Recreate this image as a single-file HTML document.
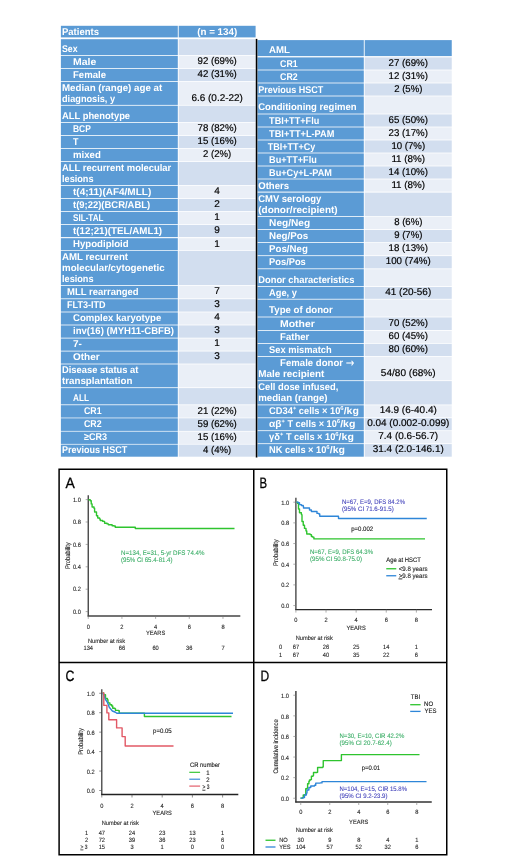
<!DOCTYPE html>
<html lang="en"><head><meta charset="utf-8"><title>Patient characteristics and outcomes</title>
<style>
html,body{margin:0;padding:0;background:#fff;}
body{width:520px;height:867px;overflow:hidden;position:relative;font-family:"Liberation Sans",sans-serif;}
svg{position:absolute;left:0;top:0;display:block;}
text{white-space:pre;}
</style></head><body>
<svg width="520" height="867" viewBox="0 0 520 867" text-rendering="geometricPrecision">
<g font-family="'Liberation Sans', sans-serif">
<rect x="60.90" y="25.80" width="116.90" height="11.60" fill="#5b9bd5"/>
<rect x="178.70" y="25.80" width="76.90" height="11.60" fill="#5b9bd5"/>
<text x="62.00" y="34.60" font-size="9.8" fill="#fff" font-weight="bold" textLength="36.95" lengthAdjust="spacingAndGlyphs">Patients</text>
<text x="217.18" y="34.60" font-size="9.8" fill="#fff" font-weight="bold" text-anchor="middle" textLength="39.94" lengthAdjust="spacingAndGlyphs">(n = 134)</text>
<rect x="60.90" y="39.20" width="116.90" height="15.90" fill="#5b9bd5"/>
<rect x="178.70" y="39.20" width="76.90" height="15.90" fill="#d2deef"/>
<text x="62.00" y="51.70" font-size="9.8" fill="#fff" font-weight="bold" textLength="15.62" lengthAdjust="spacingAndGlyphs">Sex</text>
<rect x="60.90" y="55.90" width="116.90" height="12.20" fill="#5b9bd5"/>
<rect x="178.70" y="55.90" width="76.90" height="12.20" fill="#eaeff7"/>
<text x="73.00" y="64.70" font-size="9.8" fill="#fff" font-weight="bold" textLength="23.28" lengthAdjust="spacingAndGlyphs">Male</text>
<text x="217.18" y="64.40" font-size="9.8" fill="#000" text-anchor="middle" textLength="39.32" lengthAdjust="spacingAndGlyphs" stroke="#000" stroke-width="0.18">92 (69%)</text>
<rect x="60.90" y="68.90" width="116.90" height="12.20" fill="#5b9bd5"/>
<rect x="178.70" y="68.90" width="76.90" height="12.20" fill="#d2deef"/>
<text x="73.00" y="77.70" font-size="9.8" fill="#fff" font-weight="bold" textLength="33.04" lengthAdjust="spacingAndGlyphs">Female</text>
<text x="217.18" y="77.40" font-size="9.8" fill="#000" text-anchor="middle" textLength="39.32" lengthAdjust="spacingAndGlyphs" stroke="#000" stroke-width="0.18">42 (31%)</text>
<rect x="60.90" y="81.90" width="116.90" height="23.00" fill="#5b9bd5"/>
<rect x="178.70" y="81.90" width="76.90" height="23.00" fill="#eaeff7"/>
<text x="62.00" y="90.60" font-size="9.8" fill="#fff" font-weight="bold" textLength="100.25" lengthAdjust="spacingAndGlyphs">Median (range) age at</text>
<text x="62.00" y="101.50" font-size="9.8" fill="#fff" font-weight="bold" textLength="53.08" lengthAdjust="spacingAndGlyphs">diagnosis, y</text>
<text x="217.18" y="101.20" font-size="9.8" fill="#000" text-anchor="middle" textLength="51.53" lengthAdjust="spacingAndGlyphs" stroke="#000" stroke-width="0.18">6.6 (0.2-22)</text>
<rect x="60.90" y="105.70" width="116.90" height="16.40" fill="#5b9bd5"/>
<rect x="178.70" y="105.70" width="76.90" height="16.40" fill="#d2deef"/>
<text x="62.00" y="118.70" font-size="9.8" fill="#fff" font-weight="bold" textLength="68.08" lengthAdjust="spacingAndGlyphs">ALL phenotype</text>
<rect x="60.90" y="122.90" width="116.90" height="12.20" fill="#5b9bd5"/>
<rect x="178.70" y="122.90" width="76.90" height="12.20" fill="#eaeff7"/>
<text x="73.00" y="131.70" font-size="9.8" fill="#fff" font-weight="bold" textLength="17.84" lengthAdjust="spacingAndGlyphs">BCP</text>
<text x="217.18" y="131.40" font-size="9.8" fill="#000" text-anchor="middle" textLength="39.32" lengthAdjust="spacingAndGlyphs" stroke="#000" stroke-width="0.18">78 (82%)</text>
<rect x="60.90" y="135.90" width="116.90" height="12.20" fill="#5b9bd5"/>
<rect x="178.70" y="135.90" width="76.90" height="12.20" fill="#d2deef"/>
<text x="73.00" y="144.70" font-size="9.8" fill="#fff" font-weight="bold" textLength="5.45" lengthAdjust="spacingAndGlyphs">T</text>
<text x="217.18" y="144.40" font-size="9.8" fill="#000" text-anchor="middle" textLength="39.32" lengthAdjust="spacingAndGlyphs" stroke="#000" stroke-width="0.18">15 (16%)</text>
<rect x="60.90" y="148.90" width="116.90" height="12.20" fill="#5b9bd5"/>
<rect x="178.70" y="148.90" width="76.90" height="12.20" fill="#eaeff7"/>
<text x="73.00" y="157.70" font-size="9.8" fill="#fff" font-weight="bold" textLength="27.88" lengthAdjust="spacingAndGlyphs">mixed</text>
<text x="217.18" y="157.40" font-size="9.8" fill="#000" text-anchor="middle" textLength="28.17" lengthAdjust="spacingAndGlyphs" stroke="#000" stroke-width="0.18">2 (2%)</text>
<rect x="60.90" y="161.90" width="116.90" height="23.20" fill="#5b9bd5"/>
<rect x="178.70" y="161.90" width="76.90" height="23.20" fill="#d2deef"/>
<text x="62.00" y="170.80" font-size="9.8" fill="#fff" font-weight="bold" textLength="109.27" lengthAdjust="spacingAndGlyphs">ALL recurrent molecular</text>
<text x="62.00" y="181.70" font-size="9.8" fill="#fff" font-weight="bold" textLength="31.53" lengthAdjust="spacingAndGlyphs">lesions</text>
<rect x="60.90" y="185.90" width="116.90" height="12.20" fill="#5b9bd5"/>
<rect x="178.70" y="185.90" width="76.90" height="12.20" fill="#eaeff7"/>
<text x="73.00" y="194.70" font-size="9.8" fill="#fff" font-weight="bold" textLength="78.22" lengthAdjust="spacingAndGlyphs">t(4;11)(AF4/MLL)</text>
<text x="217.18" y="194.40" font-size="9.8" fill="#000" text-anchor="middle" textLength="5.58" lengthAdjust="spacingAndGlyphs" stroke="#000" stroke-width="0.18">4</text>
<rect x="60.90" y="198.90" width="116.90" height="12.20" fill="#5b9bd5"/>
<rect x="178.70" y="198.90" width="76.90" height="12.20" fill="#d2deef"/>
<text x="73.00" y="207.70" font-size="9.8" fill="#fff" font-weight="bold" textLength="77.19" lengthAdjust="spacingAndGlyphs">t(9;22)(BCR/ABL)</text>
<text x="217.18" y="207.40" font-size="9.8" fill="#000" text-anchor="middle" textLength="5.58" lengthAdjust="spacingAndGlyphs" stroke="#000" stroke-width="0.18">2</text>
<rect x="60.90" y="211.90" width="116.90" height="12.20" fill="#5b9bd5"/>
<rect x="178.70" y="211.90" width="76.90" height="12.20" fill="#eaeff7"/>
<text x="73.00" y="220.70" font-size="9.8" fill="#fff" font-weight="bold" textLength="30.58" lengthAdjust="spacingAndGlyphs">SIL-TAL</text>
<text x="217.18" y="220.40" font-size="9.8" fill="#000" text-anchor="middle" textLength="5.58" lengthAdjust="spacingAndGlyphs" stroke="#000" stroke-width="0.18">1</text>
<rect x="60.90" y="224.90" width="116.90" height="12.20" fill="#5b9bd5"/>
<rect x="178.70" y="224.90" width="76.90" height="12.20" fill="#d2deef"/>
<text x="73.00" y="233.70" font-size="9.8" fill="#fff" font-weight="bold" textLength="89.08" lengthAdjust="spacingAndGlyphs">t(12;21)(TEL/AML1)</text>
<text x="217.18" y="233.40" font-size="9.8" fill="#000" text-anchor="middle" textLength="5.58" lengthAdjust="spacingAndGlyphs" stroke="#000" stroke-width="0.18">9</text>
<rect x="60.90" y="238.20" width="116.90" height="12.00" fill="#5b9bd5"/>
<rect x="178.70" y="238.20" width="76.90" height="12.00" fill="#eaeff7"/>
<text x="73.00" y="246.80" font-size="9.8" fill="#fff" font-weight="bold" textLength="55.69" lengthAdjust="spacingAndGlyphs">Hypodiploid</text>
<text x="217.18" y="246.50" font-size="9.8" fill="#000" text-anchor="middle" textLength="5.58" lengthAdjust="spacingAndGlyphs" stroke="#000" stroke-width="0.18">1</text>
<rect x="60.90" y="250.90" width="116.90" height="34.20" fill="#5b9bd5"/>
<rect x="178.70" y="250.90" width="76.90" height="34.20" fill="#d2deef"/>
<text x="62.00" y="259.90" font-size="9.8" fill="#fff" font-weight="bold" textLength="66.10" lengthAdjust="spacingAndGlyphs">AML recurrent</text>
<text x="62.00" y="270.80" font-size="9.8" fill="#fff" font-weight="bold" textLength="102.64" lengthAdjust="spacingAndGlyphs">molecular/cytogenetic</text>
<text x="62.00" y="281.70" font-size="9.8" fill="#fff" font-weight="bold" textLength="31.53" lengthAdjust="spacingAndGlyphs">lesions</text>
<rect x="60.90" y="285.90" width="116.90" height="12.50" fill="#5b9bd5"/>
<rect x="178.70" y="285.90" width="76.90" height="12.50" fill="#eaeff7"/>
<text x="67.00" y="294.70" font-size="9.8" fill="#fff" font-weight="bold" textLength="71.61" lengthAdjust="spacingAndGlyphs">MLL rearranged</text>
<text x="217.18" y="294.40" font-size="9.8" fill="#000" text-anchor="middle" textLength="5.58" lengthAdjust="spacingAndGlyphs" stroke="#000" stroke-width="0.18">7</text>
<rect x="60.90" y="299.20" width="116.90" height="12.40" fill="#5b9bd5"/>
<rect x="178.70" y="299.20" width="76.90" height="12.40" fill="#d2deef"/>
<text x="67.00" y="307.70" font-size="9.8" fill="#fff" font-weight="bold" textLength="38.60" lengthAdjust="spacingAndGlyphs">FLT3-ITD</text>
<text x="217.18" y="307.40" font-size="9.8" fill="#000" text-anchor="middle" textLength="5.58" lengthAdjust="spacingAndGlyphs" stroke="#000" stroke-width="0.18">3</text>
<rect x="60.90" y="312.40" width="116.90" height="12.20" fill="#5b9bd5"/>
<rect x="178.70" y="312.40" width="76.90" height="12.20" fill="#eaeff7"/>
<text x="73.00" y="320.70" font-size="9.8" fill="#fff" font-weight="bold" textLength="88.20" lengthAdjust="spacingAndGlyphs">Complex karyotype</text>
<text x="217.18" y="320.40" font-size="9.8" fill="#000" text-anchor="middle" textLength="5.58" lengthAdjust="spacingAndGlyphs" stroke="#000" stroke-width="0.18">4</text>
<rect x="60.90" y="325.40" width="116.90" height="12.30" fill="#5b9bd5"/>
<rect x="178.70" y="325.40" width="76.90" height="12.30" fill="#d2deef"/>
<text x="73.00" y="333.70" font-size="9.8" fill="#fff" font-weight="bold" textLength="100.99" lengthAdjust="spacingAndGlyphs">inv(16) (MYH11-CBFB)</text>
<text x="217.18" y="333.40" font-size="9.8" fill="#000" text-anchor="middle" textLength="5.58" lengthAdjust="spacingAndGlyphs" stroke="#000" stroke-width="0.18">3</text>
<rect x="60.90" y="338.50" width="116.90" height="12.20" fill="#5b9bd5"/>
<rect x="178.70" y="338.50" width="76.90" height="12.20" fill="#eaeff7"/>
<text x="73.00" y="346.70" font-size="9.8" fill="#fff" font-weight="bold" textLength="8.94" lengthAdjust="spacingAndGlyphs">7-</text>
<text x="217.18" y="346.40" font-size="9.8" fill="#000" text-anchor="middle" textLength="5.58" lengthAdjust="spacingAndGlyphs" stroke="#000" stroke-width="0.18">1</text>
<rect x="60.90" y="351.50" width="116.90" height="12.10" fill="#5b9bd5"/>
<rect x="178.70" y="351.50" width="76.90" height="12.10" fill="#d2deef"/>
<text x="73.00" y="359.70" font-size="9.8" fill="#fff" font-weight="bold" textLength="26.60" lengthAdjust="spacingAndGlyphs">Other</text>
<text x="217.18" y="359.40" font-size="9.8" fill="#000" text-anchor="middle" textLength="5.58" lengthAdjust="spacingAndGlyphs" stroke="#000" stroke-width="0.18">3</text>
<rect x="60.90" y="364.40" width="116.90" height="22.90" fill="#5b9bd5"/>
<rect x="178.70" y="364.40" width="76.90" height="22.90" fill="#eaeff7"/>
<text x="62.00" y="372.80" font-size="9.8" fill="#fff" font-weight="bold" textLength="76.44" lengthAdjust="spacingAndGlyphs">Disease status at</text>
<text x="62.00" y="383.70" font-size="9.8" fill="#fff" font-weight="bold" textLength="70.33" lengthAdjust="spacingAndGlyphs">transplantation</text>
<rect x="60.90" y="388.10" width="116.90" height="16.30" fill="#5b9bd5"/>
<rect x="178.70" y="388.10" width="76.90" height="16.30" fill="#d2deef"/>
<text x="73.00" y="400.70" font-size="9.8" fill="#fff" font-weight="bold" textLength="15.97" lengthAdjust="spacingAndGlyphs">ALL</text>
<rect x="60.90" y="405.20" width="116.90" height="12.40" fill="#5b9bd5"/>
<rect x="178.70" y="405.20" width="76.90" height="12.40" fill="#eaeff7"/>
<text x="84.00" y="413.90" font-size="9.8" fill="#fff" font-weight="bold" textLength="17.59" lengthAdjust="spacingAndGlyphs">CR1</text>
<text x="217.18" y="413.60" font-size="9.8" fill="#000" text-anchor="middle" textLength="39.32" lengthAdjust="spacingAndGlyphs" stroke="#000" stroke-width="0.18">21 (22%)</text>
<rect x="60.90" y="418.30" width="116.90" height="12.60" fill="#5b9bd5"/>
<rect x="178.70" y="418.30" width="76.90" height="12.60" fill="#d2deef"/>
<text x="84.00" y="427.00" font-size="9.8" fill="#fff" font-weight="bold" textLength="17.59" lengthAdjust="spacingAndGlyphs">CR2</text>
<text x="217.18" y="426.70" font-size="9.8" fill="#000" text-anchor="middle" textLength="39.32" lengthAdjust="spacingAndGlyphs" stroke="#000" stroke-width="0.18">59 (62%)</text>
<rect x="60.90" y="431.60" width="116.90" height="12.30" fill="#5b9bd5"/>
<rect x="178.70" y="431.60" width="76.90" height="12.30" fill="#eaeff7"/>
<text x="84.00" y="440.00" font-size="9.8" fill="#fff" font-weight="bold" textLength="23.07" lengthAdjust="spacingAndGlyphs">≥CR3</text>
<text x="217.18" y="439.70" font-size="9.8" fill="#000" text-anchor="middle" textLength="39.32" lengthAdjust="spacingAndGlyphs" stroke="#000" stroke-width="0.18">15 (16%)</text>
<rect x="60.90" y="444.60" width="116.90" height="12.10" fill="#5b9bd5"/>
<rect x="178.70" y="444.60" width="76.90" height="12.10" fill="#d2deef"/>
<text x="62.00" y="453.20" font-size="9.8" fill="#fff" font-weight="bold" textLength="65.19" lengthAdjust="spacingAndGlyphs">Previous HSCT</text>
<text x="217.18" y="452.90" font-size="9.8" fill="#000" text-anchor="middle" textLength="28.17" lengthAdjust="spacingAndGlyphs" stroke="#000" stroke-width="0.18">4 (4%)</text>
<rect x="257.50" y="40.10" width="106.30" height="16.00" fill="#5b9bd5"/>
<rect x="364.70" y="40.10" width="87.05" height="16.00" fill="#5b9bd5"/>
<text x="269.10" y="53.20" font-size="9.8" fill="#fff" font-weight="bold" textLength="20.93" lengthAdjust="spacingAndGlyphs">AML</text>
<rect x="257.50" y="57.40" width="106.30" height="12.20" fill="#5b9bd5"/>
<rect x="364.70" y="57.40" width="87.05" height="12.20" fill="#d2deef"/>
<text x="280.10" y="66.70" font-size="9.8" fill="#fff" font-weight="bold" textLength="17.59" lengthAdjust="spacingAndGlyphs">CR1</text>
<text x="408.25" y="66.30" font-size="9.8" fill="#000" text-anchor="middle" textLength="39.32" lengthAdjust="spacingAndGlyphs" stroke="#000" stroke-width="0.18">27 (69%)</text>
<rect x="257.50" y="70.40" width="106.30" height="12.20" fill="#5b9bd5"/>
<rect x="364.70" y="70.40" width="87.05" height="12.20" fill="#eaeff7"/>
<text x="280.10" y="79.70" font-size="9.8" fill="#fff" font-weight="bold" textLength="17.59" lengthAdjust="spacingAndGlyphs">CR2</text>
<text x="408.25" y="79.30" font-size="9.8" fill="#000" text-anchor="middle" textLength="39.32" lengthAdjust="spacingAndGlyphs" stroke="#000" stroke-width="0.18">12 (31%)</text>
<rect x="257.50" y="83.40" width="106.30" height="12.20" fill="#5b9bd5"/>
<rect x="364.70" y="83.40" width="87.05" height="12.20" fill="#d2deef"/>
<text x="258.20" y="92.70" font-size="9.8" fill="#fff" font-weight="bold" textLength="65.19" lengthAdjust="spacingAndGlyphs">Previous HSCT</text>
<text x="408.25" y="92.30" font-size="9.8" fill="#000" text-anchor="middle" textLength="28.17" lengthAdjust="spacingAndGlyphs" stroke="#000" stroke-width="0.18">2 (5%)</text>
<rect x="257.50" y="96.40" width="106.30" height="17.20" fill="#5b9bd5"/>
<rect x="364.70" y="96.40" width="87.05" height="17.20" fill="#eaeff7"/>
<text x="258.20" y="110.00" font-size="9.8" fill="#fff" font-weight="bold" textLength="98.44" lengthAdjust="spacingAndGlyphs">Conditioning regimen</text>
<rect x="257.50" y="114.40" width="106.30" height="12.20" fill="#5b9bd5"/>
<rect x="364.70" y="114.40" width="87.05" height="12.20" fill="#d2deef"/>
<text x="269.10" y="123.70" font-size="9.8" fill="#fff" font-weight="bold" textLength="50.18" lengthAdjust="spacingAndGlyphs">TBI+TT+Flu</text>
<text x="408.25" y="123.30" font-size="9.8" fill="#000" text-anchor="middle" textLength="39.32" lengthAdjust="spacingAndGlyphs" stroke="#000" stroke-width="0.18">65 (50%)</text>
<rect x="257.50" y="127.40" width="106.30" height="12.20" fill="#5b9bd5"/>
<rect x="364.70" y="127.40" width="87.05" height="12.20" fill="#eaeff7"/>
<text x="269.10" y="136.70" font-size="9.8" fill="#fff" font-weight="bold" textLength="65.25" lengthAdjust="spacingAndGlyphs">TBI+TT+L-PAM</text>
<text x="408.25" y="136.30" font-size="9.8" fill="#000" text-anchor="middle" textLength="39.32" lengthAdjust="spacingAndGlyphs" stroke="#000" stroke-width="0.18">23 (17%)</text>
<rect x="257.50" y="140.40" width="106.30" height="12.20" fill="#5b9bd5"/>
<rect x="364.70" y="140.40" width="87.05" height="12.20" fill="#d2deef"/>
<text x="267.80" y="149.70" font-size="9.8" fill="#fff" font-weight="bold" textLength="47.56" lengthAdjust="spacingAndGlyphs">TBI+TT+Cy</text>
<text x="408.25" y="149.30" font-size="9.8" fill="#000" text-anchor="middle" textLength="33.75" lengthAdjust="spacingAndGlyphs" stroke="#000" stroke-width="0.18">10 (7%)</text>
<rect x="257.50" y="153.40" width="106.30" height="12.20" fill="#5b9bd5"/>
<rect x="364.70" y="153.40" width="87.05" height="12.20" fill="#eaeff7"/>
<text x="269.10" y="162.70" font-size="9.8" fill="#fff" font-weight="bold" textLength="47.71" lengthAdjust="spacingAndGlyphs">Bu+TT+Flu</text>
<text x="408.25" y="162.30" font-size="9.8" fill="#000" text-anchor="middle" textLength="33.75" lengthAdjust="spacingAndGlyphs" stroke="#000" stroke-width="0.18">11 (8%)</text>
<rect x="257.50" y="166.40" width="106.30" height="12.20" fill="#5b9bd5"/>
<rect x="364.70" y="166.40" width="87.05" height="12.20" fill="#d2deef"/>
<text x="269.10" y="175.70" font-size="9.8" fill="#fff" font-weight="bold" textLength="62.77" lengthAdjust="spacingAndGlyphs">Bu+Cy+L-PAM</text>
<text x="408.25" y="175.30" font-size="9.8" fill="#000" text-anchor="middle" textLength="39.32" lengthAdjust="spacingAndGlyphs" stroke="#000" stroke-width="0.18">14 (10%)</text>
<rect x="257.50" y="179.40" width="106.30" height="12.20" fill="#5b9bd5"/>
<rect x="364.70" y="179.40" width="87.05" height="12.20" fill="#eaeff7"/>
<text x="258.20" y="188.70" font-size="9.8" fill="#fff" font-weight="bold" textLength="30.86" lengthAdjust="spacingAndGlyphs">Others</text>
<text x="408.25" y="188.30" font-size="9.8" fill="#000" text-anchor="middle" textLength="33.75" lengthAdjust="spacingAndGlyphs" stroke="#000" stroke-width="0.18">11 (8%)</text>
<rect x="257.50" y="192.60" width="106.30" height="23.60" fill="#5b9bd5"/>
<rect x="364.70" y="192.60" width="87.05" height="23.60" fill="#d2deef"/>
<text x="258.20" y="201.80" font-size="9.8" fill="#fff" font-weight="bold" textLength="63.09" lengthAdjust="spacingAndGlyphs">CMV serology</text>
<text x="258.20" y="212.70" font-size="9.8" fill="#fff" font-weight="bold" textLength="79.51" lengthAdjust="spacingAndGlyphs">(donor/recipient)</text>
<rect x="257.50" y="217.00" width="106.30" height="12.20" fill="#5b9bd5"/>
<rect x="364.70" y="217.00" width="87.05" height="12.20" fill="#eaeff7"/>
<text x="269.10" y="225.70" font-size="9.8" fill="#fff" font-weight="bold" textLength="41.05" lengthAdjust="spacingAndGlyphs">Neg/Neg</text>
<text x="408.25" y="225.30" font-size="9.8" fill="#000" text-anchor="middle" textLength="28.17" lengthAdjust="spacingAndGlyphs" stroke="#000" stroke-width="0.18">8 (6%)</text>
<rect x="257.50" y="230.00" width="106.30" height="12.20" fill="#5b9bd5"/>
<rect x="364.70" y="230.00" width="87.05" height="12.20" fill="#d2deef"/>
<text x="269.10" y="238.70" font-size="9.8" fill="#fff" font-weight="bold" textLength="39.03" lengthAdjust="spacingAndGlyphs">Neg/Pos</text>
<text x="408.25" y="238.30" font-size="9.8" fill="#000" text-anchor="middle" textLength="28.17" lengthAdjust="spacingAndGlyphs" stroke="#000" stroke-width="0.18">9 (7%)</text>
<rect x="257.50" y="243.00" width="106.30" height="12.30" fill="#5b9bd5"/>
<rect x="364.70" y="243.00" width="87.05" height="12.30" fill="#eaeff7"/>
<text x="269.10" y="251.70" font-size="9.8" fill="#fff" font-weight="bold" textLength="38.70" lengthAdjust="spacingAndGlyphs">Pos/Neg</text>
<text x="408.25" y="251.30" font-size="9.8" fill="#000" text-anchor="middle" textLength="39.32" lengthAdjust="spacingAndGlyphs" stroke="#000" stroke-width="0.18">18 (13%)</text>
<rect x="257.50" y="256.10" width="106.30" height="12.30" fill="#5b9bd5"/>
<rect x="364.70" y="256.10" width="87.05" height="12.30" fill="#d2deef"/>
<text x="269.10" y="264.70" font-size="9.8" fill="#fff" font-weight="bold" textLength="36.69" lengthAdjust="spacingAndGlyphs">Pos/Pos</text>
<text x="408.25" y="264.30" font-size="9.8" fill="#000" text-anchor="middle" textLength="44.90" lengthAdjust="spacingAndGlyphs" stroke="#000" stroke-width="0.18">100 (74%)</text>
<rect x="257.50" y="269.20" width="106.30" height="17.00" fill="#5b9bd5"/>
<rect x="364.70" y="269.20" width="87.05" height="17.00" fill="#eaeff7"/>
<text x="258.20" y="282.70" font-size="9.8" fill="#fff" font-weight="bold" textLength="96.22" lengthAdjust="spacingAndGlyphs">Donor characteristics</text>
<rect x="257.50" y="287.00" width="106.30" height="11.80" fill="#5b9bd5"/>
<rect x="364.70" y="287.00" width="87.05" height="11.80" fill="#d2deef"/>
<text x="269.10" y="295.70" font-size="9.8" fill="#fff" font-weight="bold" textLength="27.83" lengthAdjust="spacingAndGlyphs">Age, y</text>
<text x="408.25" y="295.30" font-size="9.8" fill="#000" text-anchor="middle" textLength="45.98" lengthAdjust="spacingAndGlyphs" stroke="#000" stroke-width="0.18">41 (20-56)</text>
<rect x="257.50" y="299.60" width="106.30" height="17.00" fill="#5b9bd5"/>
<rect x="364.70" y="299.60" width="87.05" height="17.00" fill="#eaeff7"/>
<text x="269.10" y="313.20" font-size="9.8" fill="#fff" font-weight="bold" textLength="63.67" lengthAdjust="spacingAndGlyphs">Type of donor</text>
<rect x="257.50" y="317.40" width="106.30" height="12.60" fill="#5b9bd5"/>
<rect x="364.70" y="317.40" width="87.05" height="12.60" fill="#d2deef"/>
<text x="280.10" y="326.70" font-size="9.8" fill="#fff" font-weight="bold" textLength="34.69" lengthAdjust="spacingAndGlyphs">Mother</text>
<text x="408.25" y="326.30" font-size="9.8" fill="#000" text-anchor="middle" textLength="39.32" lengthAdjust="spacingAndGlyphs" stroke="#000" stroke-width="0.18">70 (52%)</text>
<rect x="257.50" y="330.80" width="106.30" height="12.20" fill="#5b9bd5"/>
<rect x="364.70" y="330.80" width="87.05" height="12.20" fill="#eaeff7"/>
<text x="280.10" y="339.70" font-size="9.8" fill="#fff" font-weight="bold" textLength="29.24" lengthAdjust="spacingAndGlyphs">Father</text>
<text x="408.25" y="339.30" font-size="9.8" fill="#000" text-anchor="middle" textLength="39.32" lengthAdjust="spacingAndGlyphs" stroke="#000" stroke-width="0.18">60 (45%)</text>
<rect x="257.50" y="343.80" width="106.30" height="12.30" fill="#5b9bd5"/>
<rect x="364.70" y="343.80" width="87.05" height="12.30" fill="#d2deef"/>
<text x="269.10" y="352.70" font-size="9.8" fill="#fff" font-weight="bold" textLength="62.60" lengthAdjust="spacingAndGlyphs">Sex mismatch</text>
<text x="408.25" y="352.30" font-size="9.8" fill="#000" text-anchor="middle" textLength="39.32" lengthAdjust="spacingAndGlyphs" stroke="#000" stroke-width="0.18">80 (60%)</text>
<rect x="257.50" y="356.90" width="106.30" height="23.40" fill="#5b9bd5"/>
<rect x="364.70" y="356.90" width="87.05" height="23.40" fill="#eaeff7"/>
<text x="280.10" y="365.80" font-size="9.8" fill="#fff" font-weight="bold" textLength="65.56" lengthAdjust="spacingAndGlyphs">Female donor </text>
<text x="345.66" y="366.80" font-size="12.5" fill="#fff" font-family="'DejaVu Sans', 'Liberation Sans', sans-serif" textLength="8.6" lengthAdjust="spacingAndGlyphs">→</text>
<text x="258.20" y="376.70" font-size="9.8" fill="#fff" font-weight="bold" textLength="66.16" lengthAdjust="spacingAndGlyphs">Male recipient</text>
<text x="408.25" y="376.30" font-size="9.8" fill="#000" text-anchor="middle" textLength="54.72" lengthAdjust="spacingAndGlyphs" stroke="#000" stroke-width="0.18">54/80 (68%)</text>
<rect x="257.50" y="381.10" width="106.30" height="23.40" fill="#5b9bd5"/>
<rect x="364.70" y="381.10" width="87.05" height="23.40" fill="#d2deef"/>
<text x="258.20" y="389.80" font-size="9.8" fill="#fff" font-weight="bold" textLength="80.07" lengthAdjust="spacingAndGlyphs">Cell dose infused,</text>
<text x="258.20" y="400.70" font-size="9.8" fill="#fff" font-weight="bold" textLength="69.40" lengthAdjust="spacingAndGlyphs">median (range)</text>
<rect x="257.50" y="405.30" width="106.30" height="12.10" fill="#5b9bd5"/>
<rect x="364.70" y="405.30" width="87.05" height="12.10" fill="#eaeff7"/>
<text x="269.10" y="413.70" font-size="9.8" fill="#fff" font-weight="bold" textLength="23.91" lengthAdjust="spacingAndGlyphs">CD34</text>
<text x="293.01" y="410.10" font-size="5.6" fill="#fff" font-weight="bold" textLength="3.29" lengthAdjust="spacingAndGlyphs">+</text>
<text x="296.29" y="413.70" font-size="9.8" fill="#fff" font-weight="bold" textLength="44.02" lengthAdjust="spacingAndGlyphs"> cells × 10</text>
<text x="340.32" y="410.10" font-size="5.6" fill="#fff" font-weight="bold" textLength="3.35" lengthAdjust="spacingAndGlyphs">6</text>
<text x="343.66" y="413.70" font-size="9.8" fill="#fff" font-weight="bold" textLength="15.22" lengthAdjust="spacingAndGlyphs">/kg</text>
<text x="408.25" y="413.30" font-size="9.8" fill="#000" text-anchor="middle" textLength="57.11" lengthAdjust="spacingAndGlyphs" stroke="#000" stroke-width="0.18">14.9 (6-40.4)</text>
<rect x="257.50" y="418.20" width="106.30" height="12.10" fill="#5b9bd5"/>
<rect x="364.70" y="418.20" width="87.05" height="12.10" fill="#d2deef"/>
<text x="269.10" y="426.70" font-size="9.8" fill="#fff" font-weight="bold" textLength="12.50" lengthAdjust="spacingAndGlyphs">αβ</text>
<text x="281.60" y="423.10" font-size="5.6" fill="#fff" font-weight="bold" textLength="3.29" lengthAdjust="spacingAndGlyphs">+</text>
<text x="284.89" y="426.70" font-size="9.8" fill="#fff" font-weight="bold" textLength="51.96" lengthAdjust="spacingAndGlyphs"> T cells × 10</text>
<text x="336.84" y="423.10" font-size="5.6" fill="#fff" font-weight="bold" textLength="3.35" lengthAdjust="spacingAndGlyphs">6</text>
<text x="340.19" y="426.70" font-size="9.8" fill="#fff" font-weight="bold" textLength="15.22" lengthAdjust="spacingAndGlyphs">/kg</text>
<text x="408.25" y="426.30" font-size="9.8" fill="#000" text-anchor="middle" textLength="82.19" lengthAdjust="spacingAndGlyphs" stroke="#000" stroke-width="0.18">0.04 (0.002-0.099)</text>
<rect x="257.50" y="431.10" width="106.30" height="12.20" fill="#5b9bd5"/>
<rect x="364.70" y="431.10" width="87.05" height="12.20" fill="#eaeff7"/>
<text x="269.10" y="439.70" font-size="9.8" fill="#fff" font-weight="bold" textLength="10.95" lengthAdjust="spacingAndGlyphs">γδ</text>
<text x="280.05" y="436.10" font-size="5.6" fill="#fff" font-weight="bold" textLength="3.29" lengthAdjust="spacingAndGlyphs">+</text>
<text x="283.34" y="439.70" font-size="9.8" fill="#fff" font-weight="bold" textLength="51.96" lengthAdjust="spacingAndGlyphs"> T cells × 10</text>
<text x="335.30" y="436.10" font-size="5.6" fill="#fff" font-weight="bold" textLength="3.35" lengthAdjust="spacingAndGlyphs">6</text>
<text x="338.64" y="439.70" font-size="9.8" fill="#fff" font-weight="bold" textLength="15.22" lengthAdjust="spacingAndGlyphs">/kg</text>
<text x="408.25" y="439.30" font-size="9.8" fill="#000" text-anchor="middle" textLength="59.88" lengthAdjust="spacingAndGlyphs" stroke="#000" stroke-width="0.18">7.4 (0.6-56.7)</text>
<rect x="257.50" y="444.10" width="106.30" height="12.60" fill="#5b9bd5"/>
<rect x="364.70" y="444.10" width="87.05" height="12.60" fill="#d2deef"/>
<text x="269.10" y="452.70" font-size="9.8" fill="#fff" font-weight="bold" textLength="57.28" lengthAdjust="spacingAndGlyphs">NK cells × 10</text>
<text x="326.38" y="449.10" font-size="5.6" fill="#fff" font-weight="bold" textLength="3.35" lengthAdjust="spacingAndGlyphs">6</text>
<text x="329.73" y="452.70" font-size="9.8" fill="#fff" font-weight="bold" textLength="15.22" lengthAdjust="spacingAndGlyphs">/kg</text>
<text x="408.25" y="452.30" font-size="9.8" fill="#000" text-anchor="middle" textLength="71.04" lengthAdjust="spacingAndGlyphs" stroke="#000" stroke-width="0.18">31.4 (2.0-146.1)</text>
<rect x="255.75" y="38.90" width="1.60" height="418.60" fill="#000"/>
</g>
<defs><filter id="soft" x="0" y="0" width="520" height="867" filterUnits="userSpaceOnUse"><feGaussianBlur stdDeviation="0.35"/></filter></defs>
<g font-family="'Liberation Sans', sans-serif" filter="url(#soft)">
<g fill="none" stroke="#000" stroke-width="1.5">
<rect x="59.1" y="469.25" width="387.65" height="385.5"/>
<line x1="253.75" y1="469.25" x2="253.75" y2="854.75"/>
<line x1="59.1" y1="662.5" x2="446.75" y2="662.5"/>
</g>
<text x="65.50" y="487.60" font-size="15" fill="#000" textLength="9.30" lengthAdjust="spacingAndGlyphs" stroke="#000" stroke-width="0.3">A</text>
<text x="259.50" y="488.00" font-size="15" fill="#000" textLength="7.60" lengthAdjust="spacingAndGlyphs" stroke="#000" stroke-width="0.3">B</text>
<text x="65.50" y="680.70" font-size="15" fill="#000" textLength="8.90" lengthAdjust="spacingAndGlyphs" stroke="#000" stroke-width="0.3">C</text>
<text x="260.60" y="680.80" font-size="15" fill="#000" textLength="8.70" lengthAdjust="spacingAndGlyphs" stroke="#000" stroke-width="0.3">D</text>
<g stroke="#3a3a3a" stroke-width="1.3" fill="none">
<line x1="88.25" y1="495.3" x2="88.25" y2="616.4"/>
<line x1="87.65" y1="615.9" x2="240.3" y2="615.9" stroke="#444" stroke-width="1.5"/>
</g>
<g stroke="#777" stroke-width="0.6" fill="none">
<line x1="85.65" y1="499.60" x2="88.25" y2="499.60"/>
<line x1="85.65" y1="522.00" x2="88.25" y2="522.00"/>
<line x1="85.65" y1="544.40" x2="88.25" y2="544.40"/>
<line x1="85.65" y1="566.80" x2="88.25" y2="566.80"/>
<line x1="85.65" y1="589.20" x2="88.25" y2="589.20"/>
<line x1="85.65" y1="611.60" x2="88.25" y2="611.60"/>
<line x1="88.25" y1="615.90" x2="88.25" y2="618.90"/>
<line x1="121.93" y1="615.90" x2="121.93" y2="618.90"/>
<line x1="155.61" y1="615.90" x2="155.61" y2="618.90"/>
<line x1="189.29" y1="615.90" x2="189.29" y2="618.90"/>
<line x1="222.97" y1="615.90" x2="222.97" y2="618.90"/>
</g>
<text x="80.80" y="501.80" font-size="6.21" fill="#222" text-anchor="end" textLength="7.92" lengthAdjust="spacingAndGlyphs" stroke="#222" stroke-width="0.1">1.0</text>
<text x="80.80" y="524.20" font-size="6.21" fill="#222" text-anchor="end" textLength="7.92" lengthAdjust="spacingAndGlyphs" stroke="#222" stroke-width="0.1">0.8</text>
<text x="80.80" y="546.60" font-size="6.21" fill="#222" text-anchor="end" textLength="7.92" lengthAdjust="spacingAndGlyphs" stroke="#222" stroke-width="0.1">0.6</text>
<text x="80.80" y="569.00" font-size="6.21" fill="#222" text-anchor="end" textLength="7.92" lengthAdjust="spacingAndGlyphs" stroke="#222" stroke-width="0.1">0.4</text>
<text x="80.80" y="591.40" font-size="6.21" fill="#222" text-anchor="end" textLength="7.92" lengthAdjust="spacingAndGlyphs" stroke="#222" stroke-width="0.1">0.2</text>
<text x="80.80" y="613.80" font-size="6.21" fill="#222" text-anchor="end" textLength="7.92" lengthAdjust="spacingAndGlyphs" stroke="#222" stroke-width="0.1">0.0</text>
<text x="88.25" y="629.20" font-size="6.21" fill="#222" text-anchor="middle" textLength="3.17" lengthAdjust="spacingAndGlyphs" stroke="#222" stroke-width="0.1">0</text>
<text x="121.93" y="629.20" font-size="6.21" fill="#222" text-anchor="middle" textLength="3.17" lengthAdjust="spacingAndGlyphs" stroke="#222" stroke-width="0.1">2</text>
<text x="155.61" y="629.20" font-size="6.21" fill="#222" text-anchor="middle" textLength="3.17" lengthAdjust="spacingAndGlyphs" stroke="#222" stroke-width="0.1">4</text>
<text x="189.29" y="629.20" font-size="6.21" fill="#222" text-anchor="middle" textLength="3.17" lengthAdjust="spacingAndGlyphs" stroke="#222" stroke-width="0.1">6</text>
<text x="222.97" y="629.20" font-size="6.21" fill="#222" text-anchor="middle" textLength="3.17" lengthAdjust="spacingAndGlyphs" stroke="#222" stroke-width="0.1">8</text>
<text x="155.61" y="635.00" font-size="6.21" fill="#222" text-anchor="middle" textLength="19.32" lengthAdjust="spacingAndGlyphs" stroke="#222" stroke-width="0.1">YEARS</text>
<text transform="translate(69.60 555.60) rotate(-90)" font-size="6.7" fill="#222" stroke="#222" stroke-width="0.1" text-anchor="middle" textLength="26.61" lengthAdjust="spacingAndGlyphs">Probability</text>
<path d="M88.50 499.75H90.25V500.75H91.25V503.90H92.10V507.00H94.00V508.25H94.60V512.00H96.50V515.75H97.75V518.00H99.60V518.90H100.25V520.50H102.75V521.40H104.60V523.25H107.10V523.90H108.40V524.75H110.50V524.75H112.10V525.75H114.00V526.00H115.25V527.20H135.30V528.45H234.50" fill="none" stroke="#2fc42f" stroke-width="1.4" stroke-linejoin="round"/>
<text x="121.00" y="555.10" font-size="6.65" fill="#3aad66" textLength="83.50" lengthAdjust="spacingAndGlyphs" stroke="#3aad66" stroke-width="0.1">N=134, E=31, 5-yr DFS 74.4%</text>
<text x="121.00" y="561.90" font-size="6.65" fill="#3aad66" textLength="51.54" lengthAdjust="spacingAndGlyphs" stroke="#3aad66" stroke-width="0.1">(95% CI 65.4-81.4)</text>
<text x="88.00" y="642.80" font-size="6.21" fill="#222" textLength="37.06" lengthAdjust="spacingAndGlyphs" stroke="#222" stroke-width="0.1">Number at risk</text>
<text x="88.25" y="649.60" font-size="6.21" fill="#222" text-anchor="middle" textLength="9.51" lengthAdjust="spacingAndGlyphs" stroke="#222" stroke-width="0.1">134</text>
<text x="121.93" y="649.60" font-size="6.21" fill="#222" text-anchor="middle" textLength="6.34" lengthAdjust="spacingAndGlyphs" stroke="#222" stroke-width="0.1">66</text>
<text x="155.61" y="649.60" font-size="6.21" fill="#222" text-anchor="middle" textLength="6.34" lengthAdjust="spacingAndGlyphs" stroke="#222" stroke-width="0.1">60</text>
<text x="189.29" y="649.60" font-size="6.21" fill="#222" text-anchor="middle" textLength="6.34" lengthAdjust="spacingAndGlyphs" stroke="#222" stroke-width="0.1">36</text>
<text x="222.97" y="649.60" font-size="6.21" fill="#222" text-anchor="middle" textLength="3.17" lengthAdjust="spacingAndGlyphs" stroke="#222" stroke-width="0.1">7</text>
<g stroke="#3a3a3a" stroke-width="1.3" fill="none">
<line x1="295.9" y1="497.8" x2="295.9" y2="610.1"/>
<line x1="295.29999999999995" y1="609.6" x2="432" y2="609.6" stroke="#2a2a2a" stroke-width="1.25"/>
</g>
<g stroke="#777" stroke-width="0.6" fill="none">
<line x1="293.30" y1="502.20" x2="295.90" y2="502.20"/>
<line x1="293.30" y1="522.87" x2="295.90" y2="522.87"/>
<line x1="293.30" y1="543.54" x2="295.90" y2="543.54"/>
<line x1="293.30" y1="564.21" x2="295.90" y2="564.21"/>
<line x1="293.30" y1="584.88" x2="295.90" y2="584.88"/>
<line x1="293.30" y1="605.55" x2="295.90" y2="605.55"/>
<line x1="295.90" y1="609.60" x2="295.90" y2="612.60"/>
<line x1="326.02" y1="609.60" x2="326.02" y2="612.60"/>
<line x1="356.14" y1="609.60" x2="356.14" y2="612.60"/>
<line x1="386.26" y1="609.60" x2="386.26" y2="612.60"/>
<line x1="416.38" y1="609.60" x2="416.38" y2="612.60"/>
</g>
<text x="289.10" y="504.75" font-size="6.21" fill="#222" text-anchor="end" textLength="7.92" lengthAdjust="spacingAndGlyphs" stroke="#222" stroke-width="0.1">1.0</text>
<text x="289.10" y="525.42" font-size="6.21" fill="#222" text-anchor="end" textLength="7.92" lengthAdjust="spacingAndGlyphs" stroke="#222" stroke-width="0.1">0.8</text>
<text x="289.10" y="546.09" font-size="6.21" fill="#222" text-anchor="end" textLength="7.92" lengthAdjust="spacingAndGlyphs" stroke="#222" stroke-width="0.1">0.6</text>
<text x="289.10" y="566.76" font-size="6.21" fill="#222" text-anchor="end" textLength="7.92" lengthAdjust="spacingAndGlyphs" stroke="#222" stroke-width="0.1">0.4</text>
<text x="289.10" y="587.43" font-size="6.21" fill="#222" text-anchor="end" textLength="7.92" lengthAdjust="spacingAndGlyphs" stroke="#222" stroke-width="0.1">0.2</text>
<text x="289.10" y="608.10" font-size="6.21" fill="#222" text-anchor="end" textLength="7.92" lengthAdjust="spacingAndGlyphs" stroke="#222" stroke-width="0.1">0.0</text>
<text x="295.90" y="622.20" font-size="6.21" fill="#222" text-anchor="middle" textLength="3.17" lengthAdjust="spacingAndGlyphs" stroke="#222" stroke-width="0.1">0</text>
<text x="326.02" y="622.20" font-size="6.21" fill="#222" text-anchor="middle" textLength="3.17" lengthAdjust="spacingAndGlyphs" stroke="#222" stroke-width="0.1">2</text>
<text x="356.14" y="622.20" font-size="6.21" fill="#222" text-anchor="middle" textLength="3.17" lengthAdjust="spacingAndGlyphs" stroke="#222" stroke-width="0.1">4</text>
<text x="386.26" y="622.20" font-size="6.21" fill="#222" text-anchor="middle" textLength="3.17" lengthAdjust="spacingAndGlyphs" stroke="#222" stroke-width="0.1">6</text>
<text x="416.38" y="622.20" font-size="6.21" fill="#222" text-anchor="middle" textLength="3.17" lengthAdjust="spacingAndGlyphs" stroke="#222" stroke-width="0.1">8</text>
<text x="356.14" y="630.20" font-size="6.21" fill="#222" text-anchor="middle" textLength="19.32" lengthAdjust="spacingAndGlyphs" stroke="#222" stroke-width="0.1">YEARS</text>
<text transform="translate(277.80 552.60) rotate(-90)" font-size="6.7" fill="#222" stroke="#222" stroke-width="0.1" text-anchor="middle" textLength="26.61" lengthAdjust="spacingAndGlyphs">Probability</text>
<path d="M296.40 502.10H297.60V503.40H298.50V509.00H299.50V512.75H301.40V514.60H302.00V521.50H303.25V525.25H304.50V528.40H306.00V530.90H306.75V534.00H310.10V534.60H311.40V536.50H312.60V537.10H313.90V538.90H425.00" fill="none" stroke="#2fc42f" stroke-width="1.4" stroke-linejoin="round"/>
<path d="M296.40 502.10H298.25V502.75H299.50V504.60H301.40V505.50H303.25V506.50H303.50V508.00H308.25V508.00H309.50V510.00H311.40V511.50H315.75V511.50H317.00V513.40H318.90V514.00H319.75V516.25H338.50V518.45H426.75" fill="none" stroke="#2f86d8" stroke-width="1.4" stroke-linejoin="round"/>
<text x="342.00" y="504.10" font-size="6.54" fill="#4444bb" textLength="63.00" lengthAdjust="spacingAndGlyphs" stroke="#4444bb" stroke-width="0.1">N=67, E=9, DFS 84.2%</text>
<text x="342.00" y="511.10" font-size="6.54" fill="#4444bb" textLength="51.75" lengthAdjust="spacingAndGlyphs" stroke="#4444bb" stroke-width="0.1">(95% CI 71.6-91.5)</text>
<text x="351.20" y="531.10" font-size="6.54" fill="#111" textLength="22.00" lengthAdjust="spacingAndGlyphs" stroke="#111" stroke-width="0.1">p=0.002</text>
<text x="310.00" y="554.10" font-size="6.54" fill="#3aad66" textLength="63.00" lengthAdjust="spacingAndGlyphs" stroke="#3aad66" stroke-width="0.1">N=67, E=9, DFS 64.3%</text>
<text x="310.00" y="560.90" font-size="6.54" fill="#3aad66" textLength="52.00" lengthAdjust="spacingAndGlyphs" stroke="#3aad66" stroke-width="0.1">(95% CI 50.8-75.0)</text>
<text x="386.25" y="562.40" font-size="6.54" fill="#111" textLength="34.50" lengthAdjust="spacingAndGlyphs" stroke="#111" stroke-width="0.1">Age at HSCT</text>
<line x1="386.25" y1="568.75" x2="396.25" y2="568.75" stroke="#2fc42f" stroke-width="1.3"/>
<line x1="386.25" y1="575.75" x2="396.25" y2="575.75" stroke="#2f86d8" stroke-width="1.3"/>
<text x="398.75" y="570.60" font-size="6.54" fill="#111" textLength="28.75" lengthAdjust="spacingAndGlyphs" stroke="#111" stroke-width="0.1">&lt;9.8 years</text>
<text x="398.75" y="577.6" font-size="6.54" fill="#111" stroke="#111" stroke-width="0.1" textLength="28.75" lengthAdjust="spacingAndGlyphs"><tspan text-decoration="underline">&gt;</tspan>9.8 years</text>
<text x="295.75" y="639.60" font-size="6.21" fill="#222" textLength="37.06" lengthAdjust="spacingAndGlyphs" stroke="#222" stroke-width="0.1">Number at risk</text>
<text x="280.50" y="649.30" font-size="6.21" fill="#222" text-anchor="middle" textLength="3.17" lengthAdjust="spacingAndGlyphs" stroke="#222" stroke-width="0.1">0</text>
<text x="280.50" y="656.60" font-size="6.21" fill="#222" text-anchor="middle" textLength="3.17" lengthAdjust="spacingAndGlyphs" stroke="#222" stroke-width="0.1">1</text>
<text x="295.90" y="649.30" font-size="6.21" fill="#222" text-anchor="middle" textLength="6.34" lengthAdjust="spacingAndGlyphs" stroke="#222" stroke-width="0.1">67</text>
<text x="295.90" y="656.60" font-size="6.21" fill="#222" text-anchor="middle" textLength="6.34" lengthAdjust="spacingAndGlyphs" stroke="#222" stroke-width="0.1">67</text>
<text x="326.02" y="649.30" font-size="6.21" fill="#222" text-anchor="middle" textLength="6.34" lengthAdjust="spacingAndGlyphs" stroke="#222" stroke-width="0.1">26</text>
<text x="326.02" y="656.60" font-size="6.21" fill="#222" text-anchor="middle" textLength="6.34" lengthAdjust="spacingAndGlyphs" stroke="#222" stroke-width="0.1">40</text>
<text x="356.14" y="649.30" font-size="6.21" fill="#222" text-anchor="middle" textLength="6.34" lengthAdjust="spacingAndGlyphs" stroke="#222" stroke-width="0.1">25</text>
<text x="356.14" y="656.60" font-size="6.21" fill="#222" text-anchor="middle" textLength="6.34" lengthAdjust="spacingAndGlyphs" stroke="#222" stroke-width="0.1">35</text>
<text x="386.26" y="649.30" font-size="6.21" fill="#222" text-anchor="middle" textLength="6.34" lengthAdjust="spacingAndGlyphs" stroke="#222" stroke-width="0.1">14</text>
<text x="386.26" y="656.60" font-size="6.21" fill="#222" text-anchor="middle" textLength="6.34" lengthAdjust="spacingAndGlyphs" stroke="#222" stroke-width="0.1">22</text>
<text x="416.38" y="649.30" font-size="6.21" fill="#222" text-anchor="middle" textLength="3.17" lengthAdjust="spacingAndGlyphs" stroke="#222" stroke-width="0.1">1</text>
<text x="416.38" y="656.60" font-size="6.21" fill="#222" text-anchor="middle" textLength="3.17" lengthAdjust="spacingAndGlyphs" stroke="#222" stroke-width="0.1">6</text>
<g stroke="#303030" stroke-width="1.2" fill="none">
<line x1="101.8" y1="689.2" x2="101.8" y2="795.0"/>
<line x1="101.2" y1="794.5" x2="238.3" y2="794.5" stroke="#222" stroke-width="1.3"/>
</g>
<g stroke="#444" stroke-width="0.6" fill="none">
<line x1="99.20" y1="693.25" x2="101.80" y2="693.25"/>
<line x1="99.20" y1="712.70" x2="101.80" y2="712.70"/>
<line x1="99.20" y1="732.15" x2="101.80" y2="732.15"/>
<line x1="99.20" y1="751.60" x2="101.80" y2="751.60"/>
<line x1="99.20" y1="771.05" x2="101.80" y2="771.05"/>
<line x1="99.20" y1="790.50" x2="101.80" y2="790.50"/>
<line x1="101.80" y1="794.50" x2="101.80" y2="797.50"/>
<line x1="132.00" y1="794.50" x2="132.00" y2="797.50"/>
<line x1="162.20" y1="794.50" x2="162.20" y2="797.50"/>
<line x1="192.40" y1="794.50" x2="192.40" y2="797.50"/>
<line x1="222.60" y1="794.50" x2="222.60" y2="797.50"/>
</g>
<text x="94.70" y="695.85" font-size="6.21" fill="#222" text-anchor="end" textLength="7.92" lengthAdjust="spacingAndGlyphs" stroke="#222" stroke-width="0.1">1.0</text>
<text x="94.70" y="715.30" font-size="6.21" fill="#222" text-anchor="end" textLength="7.92" lengthAdjust="spacingAndGlyphs" stroke="#222" stroke-width="0.1">0.8</text>
<text x="94.70" y="734.75" font-size="6.21" fill="#222" text-anchor="end" textLength="7.92" lengthAdjust="spacingAndGlyphs" stroke="#222" stroke-width="0.1">0.6</text>
<text x="94.70" y="754.20" font-size="6.21" fill="#222" text-anchor="end" textLength="7.92" lengthAdjust="spacingAndGlyphs" stroke="#222" stroke-width="0.1">0.4</text>
<text x="94.70" y="773.65" font-size="6.21" fill="#222" text-anchor="end" textLength="7.92" lengthAdjust="spacingAndGlyphs" stroke="#222" stroke-width="0.1">0.2</text>
<text x="94.70" y="793.10" font-size="6.21" fill="#222" text-anchor="end" textLength="7.92" lengthAdjust="spacingAndGlyphs" stroke="#222" stroke-width="0.1">0.0</text>
<text x="101.80" y="807.80" font-size="6.21" fill="#222" text-anchor="middle" textLength="3.17" lengthAdjust="spacingAndGlyphs" stroke="#222" stroke-width="0.1">0</text>
<text x="132.00" y="807.80" font-size="6.21" fill="#222" text-anchor="middle" textLength="3.17" lengthAdjust="spacingAndGlyphs" stroke="#222" stroke-width="0.1">2</text>
<text x="162.20" y="807.80" font-size="6.21" fill="#222" text-anchor="middle" textLength="3.17" lengthAdjust="spacingAndGlyphs" stroke="#222" stroke-width="0.1">4</text>
<text x="192.40" y="807.80" font-size="6.21" fill="#222" text-anchor="middle" textLength="3.17" lengthAdjust="spacingAndGlyphs" stroke="#222" stroke-width="0.1">6</text>
<text x="222.60" y="807.80" font-size="6.21" fill="#222" text-anchor="middle" textLength="3.17" lengthAdjust="spacingAndGlyphs" stroke="#222" stroke-width="0.1">8</text>
<text x="162.20" y="815.30" font-size="6.21" fill="#222" text-anchor="middle" textLength="19.32" lengthAdjust="spacingAndGlyphs" stroke="#222" stroke-width="0.1">YEARS</text>
<text transform="translate(83.35 741.50) rotate(-90)" font-size="6.7" fill="#222" stroke="#222" stroke-width="0.1" text-anchor="middle" textLength="26.61" lengthAdjust="spacingAndGlyphs">Probability</text>
<path d="M102.40 692.90H103.60V694.75H105.50V698.50H107.40V699.75H108.00V702.90H109.90V704.75H111.75V706.00H112.75V708.25H114.90V708.75H115.50V710.40H118.60V710.75H119.25V713.30H144.40V716.45H231.50" fill="none" stroke="#2fc42f" stroke-width="1.4" stroke-linejoin="round"/>
<path d="M102.40 692.90L104.25 695.40L105.25 699.10L107.40 702.25L109.25 707.25L112.40 711.00L115.50 712.25L116.75 713.30H233.00" fill="none" stroke="#2f86d8" stroke-width="1.4" stroke-linejoin="round"/>
<path d="M102.40 692.90H103.80V705.40H106.90V712.90H108.80V719.75H116.60V727.90H122.10V736.60H125.20V746.00H173.50" fill="none" stroke="#e25865" stroke-width="1.4" stroke-linejoin="round"/>
<text x="153.00" y="732.60" font-size="6.54" fill="#111" textLength="18.75" lengthAdjust="spacingAndGlyphs" stroke="#111" stroke-width="0.1">p=0.05</text>
<text x="190.00" y="767.10" font-size="6.54" fill="#111" textLength="30.00" lengthAdjust="spacingAndGlyphs" stroke="#111" stroke-width="0.1">CR number</text>
<line x1="189.3" y1="772.3" x2="200.1" y2="772.3" stroke="#2fc42f" stroke-width="1.15"/>
<line x1="189.3" y1="779.2" x2="200.1" y2="779.2" stroke="#2f86d8" stroke-width="1.15"/>
<line x1="189.3" y1="786.1" x2="200.1" y2="786.1" stroke="#e25865" stroke-width="1.15"/>
<text x="208.00" y="774.80" font-size="6.54" fill="#111" text-anchor="middle" textLength="3.34" lengthAdjust="spacingAndGlyphs" stroke="#111" stroke-width="0.1">1</text>
<text x="208.00" y="781.90" font-size="6.54" fill="#111" text-anchor="middle" textLength="3.34" lengthAdjust="spacingAndGlyphs" stroke="#111" stroke-width="0.1">2</text>
<text x="202.5" y="788.9" font-size="6.54" fill="#111" stroke="#111" stroke-width="0.1" textLength="7.0" lengthAdjust="spacingAndGlyphs"><tspan text-decoration="underline">&gt;</tspan> 3</text>
<text x="101.75" y="824.90" font-size="6.21" fill="#222" textLength="37.06" lengthAdjust="spacingAndGlyphs" stroke="#222" stroke-width="0.1">Number at risk</text>
<text x="86.50" y="835.10" font-size="6.21" fill="#222" text-anchor="middle" textLength="3.17" lengthAdjust="spacingAndGlyphs" stroke="#222" stroke-width="0.1">1</text>
<text x="86.50" y="841.60" font-size="6.21" fill="#222" text-anchor="middle" textLength="3.17" lengthAdjust="spacingAndGlyphs" stroke="#222" stroke-width="0.1">2</text>
<text x="80.5" y="848.6" font-size="6.2" fill="#222" stroke="#222" stroke-width="0.1" textLength="7.0" lengthAdjust="spacingAndGlyphs"><tspan text-decoration="underline">&gt;</tspan> 3</text>
<text x="101.80" y="835.10" font-size="6.21" fill="#222" text-anchor="middle" textLength="6.34" lengthAdjust="spacingAndGlyphs" stroke="#222" stroke-width="0.1">47</text>
<text x="101.80" y="841.60" font-size="6.21" fill="#222" text-anchor="middle" textLength="6.34" lengthAdjust="spacingAndGlyphs" stroke="#222" stroke-width="0.1">72</text>
<text x="101.80" y="848.60" font-size="6.21" fill="#222" text-anchor="middle" textLength="6.34" lengthAdjust="spacingAndGlyphs" stroke="#222" stroke-width="0.1">15</text>
<text x="132.00" y="835.10" font-size="6.21" fill="#222" text-anchor="middle" textLength="6.34" lengthAdjust="spacingAndGlyphs" stroke="#222" stroke-width="0.1">24</text>
<text x="132.00" y="841.60" font-size="6.21" fill="#222" text-anchor="middle" textLength="6.34" lengthAdjust="spacingAndGlyphs" stroke="#222" stroke-width="0.1">39</text>
<text x="132.00" y="848.60" font-size="6.21" fill="#222" text-anchor="middle" textLength="3.17" lengthAdjust="spacingAndGlyphs" stroke="#222" stroke-width="0.1">3</text>
<text x="162.20" y="835.10" font-size="6.21" fill="#222" text-anchor="middle" textLength="6.34" lengthAdjust="spacingAndGlyphs" stroke="#222" stroke-width="0.1">23</text>
<text x="162.20" y="841.60" font-size="6.21" fill="#222" text-anchor="middle" textLength="6.34" lengthAdjust="spacingAndGlyphs" stroke="#222" stroke-width="0.1">36</text>
<text x="162.20" y="848.60" font-size="6.21" fill="#222" text-anchor="middle" textLength="3.17" lengthAdjust="spacingAndGlyphs" stroke="#222" stroke-width="0.1">1</text>
<text x="192.40" y="835.10" font-size="6.21" fill="#222" text-anchor="middle" textLength="6.34" lengthAdjust="spacingAndGlyphs" stroke="#222" stroke-width="0.1">13</text>
<text x="192.40" y="841.60" font-size="6.21" fill="#222" text-anchor="middle" textLength="6.34" lengthAdjust="spacingAndGlyphs" stroke="#222" stroke-width="0.1">23</text>
<text x="192.40" y="848.60" font-size="6.21" fill="#222" text-anchor="middle" textLength="3.17" lengthAdjust="spacingAndGlyphs" stroke="#222" stroke-width="0.1">0</text>
<text x="222.60" y="835.10" font-size="6.21" fill="#222" text-anchor="middle" textLength="3.17" lengthAdjust="spacingAndGlyphs" stroke="#222" stroke-width="0.1">1</text>
<text x="222.60" y="841.60" font-size="6.21" fill="#222" text-anchor="middle" textLength="3.17" lengthAdjust="spacingAndGlyphs" stroke="#222" stroke-width="0.1">6</text>
<text x="222.60" y="848.60" font-size="6.21" fill="#222" text-anchor="middle" textLength="3.17" lengthAdjust="spacingAndGlyphs" stroke="#222" stroke-width="0.1">0</text>
<g stroke="#333" stroke-width="1.4" fill="none">
<line x1="295.9" y1="690.9" x2="295.9" y2="802.5"/>
<line x1="295.29999999999995" y1="802" x2="431.75" y2="802" stroke="#333" stroke-width="1.4"/>
</g>
<g stroke="#777" stroke-width="0.6" fill="none">
<line x1="293.30" y1="695.25" x2="295.90" y2="695.25"/>
<line x1="293.30" y1="715.85" x2="295.90" y2="715.85"/>
<line x1="293.30" y1="736.45" x2="295.90" y2="736.45"/>
<line x1="293.30" y1="757.05" x2="295.90" y2="757.05"/>
<line x1="293.30" y1="777.65" x2="295.90" y2="777.65"/>
<line x1="293.30" y1="798.25" x2="295.90" y2="798.25"/>
<line x1="300.75" y1="802.00" x2="300.75" y2="805.00"/>
<line x1="329.75" y1="802.00" x2="329.75" y2="805.00"/>
<line x1="358.75" y1="802.00" x2="358.75" y2="805.00"/>
<line x1="387.75" y1="802.00" x2="387.75" y2="805.00"/>
<line x1="416.75" y1="802.00" x2="416.75" y2="805.00"/>
</g>
<text x="289.00" y="697.95" font-size="6.21" fill="#222" text-anchor="end" textLength="7.92" lengthAdjust="spacingAndGlyphs" stroke="#222" stroke-width="0.1">1.0</text>
<text x="289.00" y="718.55" font-size="6.21" fill="#222" text-anchor="end" textLength="7.92" lengthAdjust="spacingAndGlyphs" stroke="#222" stroke-width="0.1">0.8</text>
<text x="289.00" y="739.15" font-size="6.21" fill="#222" text-anchor="end" textLength="7.92" lengthAdjust="spacingAndGlyphs" stroke="#222" stroke-width="0.1">0.6</text>
<text x="289.00" y="759.75" font-size="6.21" fill="#222" text-anchor="end" textLength="7.92" lengthAdjust="spacingAndGlyphs" stroke="#222" stroke-width="0.1">0.4</text>
<text x="289.00" y="780.35" font-size="6.21" fill="#222" text-anchor="end" textLength="7.92" lengthAdjust="spacingAndGlyphs" stroke="#222" stroke-width="0.1">0.2</text>
<text x="289.00" y="800.95" font-size="6.21" fill="#222" text-anchor="end" textLength="7.92" lengthAdjust="spacingAndGlyphs" stroke="#222" stroke-width="0.1">0.0</text>
<text x="300.75" y="814.40" font-size="6.21" fill="#222" text-anchor="middle" textLength="3.17" lengthAdjust="spacingAndGlyphs" stroke="#222" stroke-width="0.1">0</text>
<text x="329.75" y="814.40" font-size="6.21" fill="#222" text-anchor="middle" textLength="3.17" lengthAdjust="spacingAndGlyphs" stroke="#222" stroke-width="0.1">2</text>
<text x="358.75" y="814.40" font-size="6.21" fill="#222" text-anchor="middle" textLength="3.17" lengthAdjust="spacingAndGlyphs" stroke="#222" stroke-width="0.1">4</text>
<text x="387.75" y="814.40" font-size="6.21" fill="#222" text-anchor="middle" textLength="3.17" lengthAdjust="spacingAndGlyphs" stroke="#222" stroke-width="0.1">6</text>
<text x="416.75" y="814.40" font-size="6.21" fill="#222" text-anchor="middle" textLength="3.17" lengthAdjust="spacingAndGlyphs" stroke="#222" stroke-width="0.1">8</text>
<text x="358.75" y="823.60" font-size="6.21" fill="#222" text-anchor="middle" textLength="19.32" lengthAdjust="spacingAndGlyphs" stroke="#222" stroke-width="0.1">YEARS</text>
<text transform="translate(277.60 746.50) rotate(-90)" font-size="6.7" fill="#222" stroke="#222" stroke-width="0.1" text-anchor="middle" textLength="54.18" lengthAdjust="spacingAndGlyphs">Cumulative incidence</text>
<path d="M300.50 798.10H302.60V797.50H303.25V795.00H305.10V794.40H305.75V788.75H307.00V788.10H307.60V783.75H308.90V781.25H309.50V780.00H310.75V779.40H311.40V776.25H313.00V775.60H313.50V772.50H317.00V772.25H317.60V767.50H322.60V766.90H323.25V760.60H341.40V754.60H419.50" fill="none" stroke="#2fc42f" stroke-width="1.4" stroke-linejoin="round"/>
<path d="M300.50 798.10H303.25V797.50H304.50V795.00H306.40V793.10H307.00V790.00H308.90V787.50H310.75V786.00H314.50V785.25H315.75V783.10H320.10V782.90H322.00V781.60H426.50" fill="none" stroke="#2f86d8" stroke-width="1.4" stroke-linejoin="round"/>
<text x="339.50" y="738.10" font-size="6.54" fill="#3aad66" textLength="64.75" lengthAdjust="spacingAndGlyphs" stroke="#3aad66" stroke-width="0.1">N=30, E=10, CIR 42.2%</text>
<text x="339.50" y="745.10" font-size="6.54" fill="#3aad66" textLength="52.25" lengthAdjust="spacingAndGlyphs" stroke="#3aad66" stroke-width="0.1">(95% CI 20.7-62.4)</text>
<text x="361.75" y="770.10" font-size="6.54" fill="#111" textLength="18.25" lengthAdjust="spacingAndGlyphs" stroke="#111" stroke-width="0.1">p=0.01</text>
<text x="339.50" y="791.40" font-size="6.54" fill="#4444bb" textLength="67.50" lengthAdjust="spacingAndGlyphs" stroke="#4444bb" stroke-width="0.1">N=104, E=15, CIR 15.8%</text>
<text x="339.50" y="798.10" font-size="6.54" fill="#4444bb" textLength="48.00" lengthAdjust="spacingAndGlyphs" stroke="#4444bb" stroke-width="0.1">(95% CI 9.2-23.9)</text>
<text x="410.75" y="699.25" font-size="6.54" fill="#111" textLength="9.33" lengthAdjust="spacingAndGlyphs" stroke="#111" stroke-width="0.1">TBI</text>
<line x1="410.2" y1="704.7" x2="420.6" y2="704.7" stroke="#2fc42f" stroke-width="1.3"/>
<line x1="410.2" y1="711.4" x2="420.6" y2="711.4" stroke="#2f86d8" stroke-width="1.3"/>
<text x="424.10" y="706.10" font-size="6.54" fill="#111" textLength="9.00" lengthAdjust="spacingAndGlyphs" stroke="#111" stroke-width="0.1">NO</text>
<text x="424.40" y="713.25" font-size="6.54" fill="#111" textLength="12.01" lengthAdjust="spacingAndGlyphs" stroke="#111" stroke-width="0.1">YES</text>
<text x="295.75" y="831.60" font-size="6.21" fill="#222" textLength="37.06" lengthAdjust="spacingAndGlyphs" stroke="#222" stroke-width="0.1">Number at risk</text>
<line x1="265.5" y1="840.25" x2="275.5" y2="840.25" stroke="#2fc42f" stroke-width="1.3"/>
<line x1="265.5" y1="847" x2="275.5" y2="847" stroke="#2f86d8" stroke-width="1.3"/>
<text x="279.25" y="842.30" font-size="6.21" fill="#222" textLength="8.55" lengthAdjust="spacingAndGlyphs" stroke="#222" stroke-width="0.1">NO</text>
<text x="279.25" y="849.00" font-size="6.21" fill="#222" textLength="11.41" lengthAdjust="spacingAndGlyphs" stroke="#222" stroke-width="0.1">YES</text>
<text x="300.75" y="842.20" font-size="6.21" fill="#222" text-anchor="middle" textLength="6.34" lengthAdjust="spacingAndGlyphs" stroke="#222" stroke-width="0.1">30</text>
<text x="300.75" y="848.90" font-size="6.21" fill="#222" text-anchor="middle" textLength="9.51" lengthAdjust="spacingAndGlyphs" stroke="#222" stroke-width="0.1">104</text>
<text x="329.75" y="842.20" font-size="6.21" fill="#222" text-anchor="middle" textLength="3.17" lengthAdjust="spacingAndGlyphs" stroke="#222" stroke-width="0.1">9</text>
<text x="329.75" y="848.90" font-size="6.21" fill="#222" text-anchor="middle" textLength="6.34" lengthAdjust="spacingAndGlyphs" stroke="#222" stroke-width="0.1">57</text>
<text x="358.75" y="842.20" font-size="6.21" fill="#222" text-anchor="middle" textLength="3.17" lengthAdjust="spacingAndGlyphs" stroke="#222" stroke-width="0.1">8</text>
<text x="358.75" y="848.90" font-size="6.21" fill="#222" text-anchor="middle" textLength="6.34" lengthAdjust="spacingAndGlyphs" stroke="#222" stroke-width="0.1">52</text>
<text x="387.75" y="842.20" font-size="6.21" fill="#222" text-anchor="middle" textLength="3.17" lengthAdjust="spacingAndGlyphs" stroke="#222" stroke-width="0.1">4</text>
<text x="387.75" y="848.90" font-size="6.21" fill="#222" text-anchor="middle" textLength="6.34" lengthAdjust="spacingAndGlyphs" stroke="#222" stroke-width="0.1">32</text>
<text x="416.75" y="842.20" font-size="6.21" fill="#222" text-anchor="middle" textLength="3.17" lengthAdjust="spacingAndGlyphs" stroke="#222" stroke-width="0.1">1</text>
<text x="416.75" y="848.90" font-size="6.21" fill="#222" text-anchor="middle" textLength="3.17" lengthAdjust="spacingAndGlyphs" stroke="#222" stroke-width="0.1">6</text>
</g>
</svg>
</body></html>
